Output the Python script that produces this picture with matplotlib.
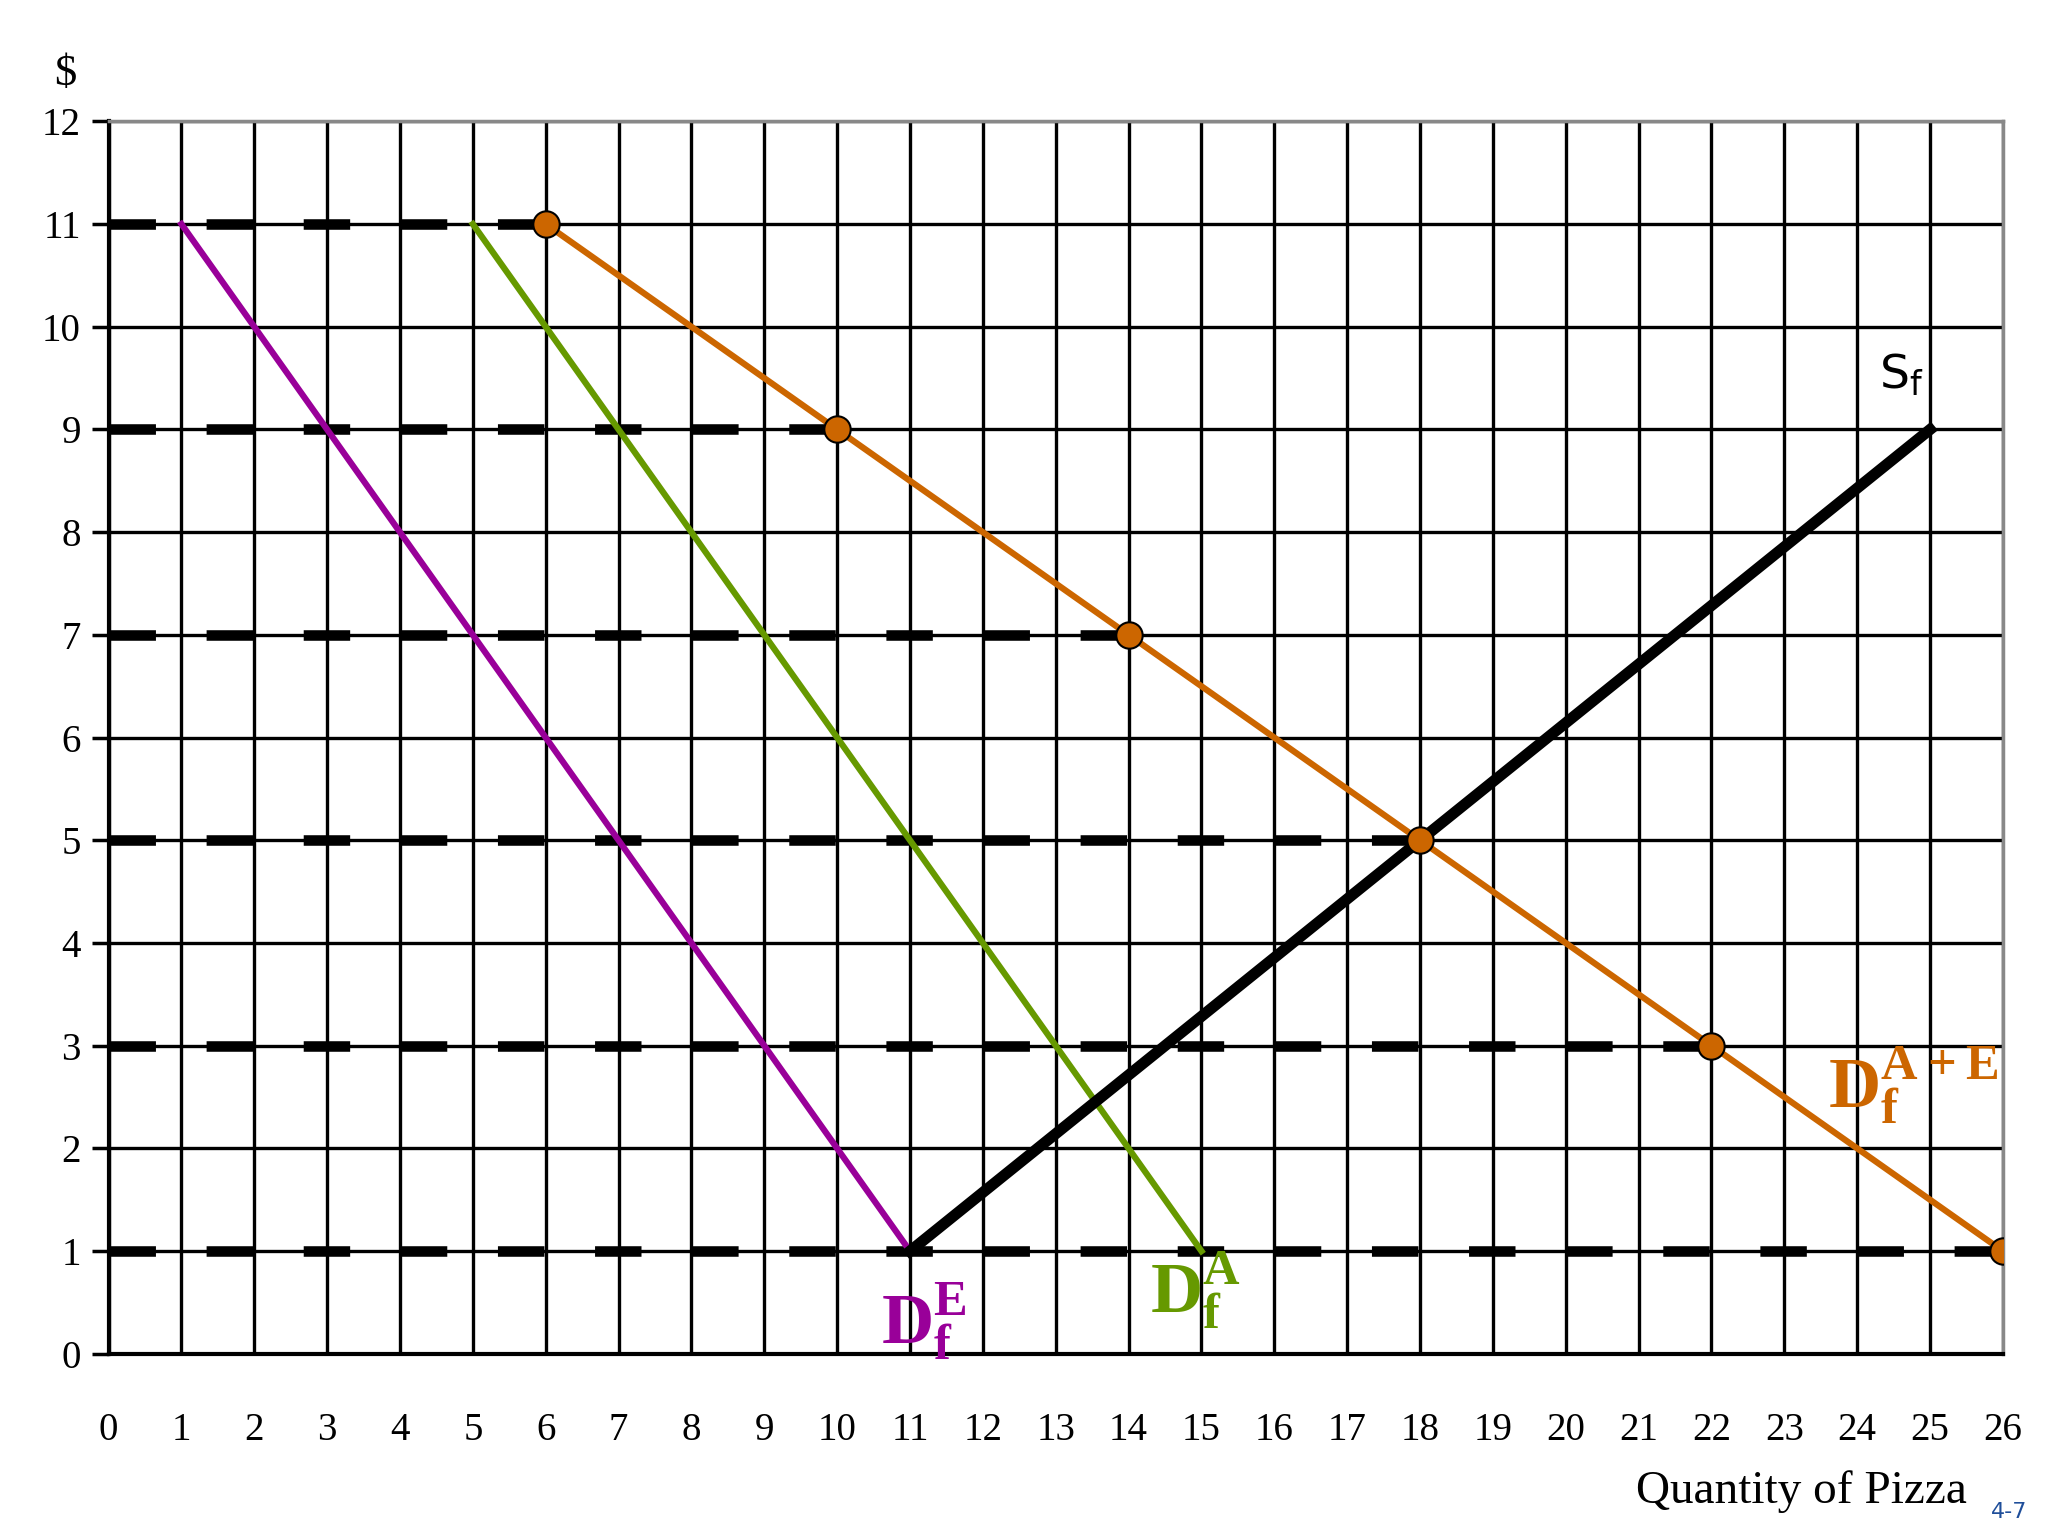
import matplotlib
matplotlib.use("Agg")
import matplotlib.pyplot as plt
plt.rcParams['mathtext.fontset'] = 'custom'
plt.rcParams['mathtext.rm'] = 'Liberation Serif'
plt.rcParams['mathtext.bf'] = 'Liberation Serif:bold'

dash_levels = [11, 9, 7, 5, 3, 1]
dash_ends = [6, 10, 14, 18, 22, 26]
de_x = [1, 11]; de_y = [11, 1]
da_x = [5, 15]; da_y = [11, 1]
dae_x = [6, 10, 14, 18, 22, 26]; dae_y = [11, 9, 7, 5, 3, 1]
s_x = [11, 25]; s_y = [1, 9]

fig = plt.figure(figsize=(20.48, 15.36), dpi=100)
ax = fig.add_axes([0.053, 0.1186, 0.925, 0.8024])
ax.set_xlim(0, 26); ax.set_ylim(0, 12)
for i in range(27):
    ax.axvline(i, color='black', lw=2.4, zorder=1)
for j in range(13):
    ax.axhline(j, color='black', lw=2.4, zorder=1)
for lv, e in zip(dash_levels, dash_ends):
    ax.plot([0, e], [lv, lv], color='black', lw=7.6, dashes=(4.4, 4.8),
            solid_capstyle='butt', dash_capstyle='butt', zorder=2)
ax.plot(de_x, de_y, color='#990099', lw=4.5, zorder=3)
ax.plot(da_x, da_y, color='#669900', lw=4.5, zorder=3)
ax.plot(dae_x, dae_y, color='#CC6600', lw=4.5, zorder=3)
ax.plot(s_x, s_y, color='black', lw=8, zorder=4)
ax.plot(dae_x, dae_y, 'o', color='#CC6600', mec='black', mew=1.5, ms=19, zorder=5)

for sp in ['top', 'right']:
    ax.spines[sp].set_color('#888888'); ax.spines[sp].set_linewidth(2.5)
for sp in ['left', 'bottom']:
    ax.spines[sp].set_linewidth(3)
ax.set_xticks(range(27)); ax.set_yticks(range(13))
ax.tick_params(axis='x', length=0, pad=42)
ax.tick_params(axis='y', length=12, width=2.5, direction='out', pad=8)
for lab in ax.get_xticklabels() + ax.get_yticklabels():
    lab.set_family('Liberation Serif'); lab.set_fontsize(28)

ax.text(-0.6, 12.35, '$', fontsize=32, family='Liberation Serif', ha='center')
ax.text(25.5, -1.45, 'Quantity of Pizza', fontsize=34, family='Liberation Serif', ha='right')
fig.text(0.99, 0.012, '4-7', fontsize=16, color='#1F4E9A', ha='right')

ax.text(10.6, 0.1, r'$\mathbf{D_f^{E}}$', color='#990099', fontsize=52)
ax.text(14.3, 0.4, r'$\mathbf{D_f^{A}}$', color='#669900', fontsize=52)
ax.text(23.6, 2.4, r'$\mathbf{D_f^{A+E}}$', color='#CC6600', fontsize=52)
ax.text(24.3, 9.4, r'S$_\mathregular{f}$', color='black', fontsize=34)
fig.savefig('out.png', dpi=100)
